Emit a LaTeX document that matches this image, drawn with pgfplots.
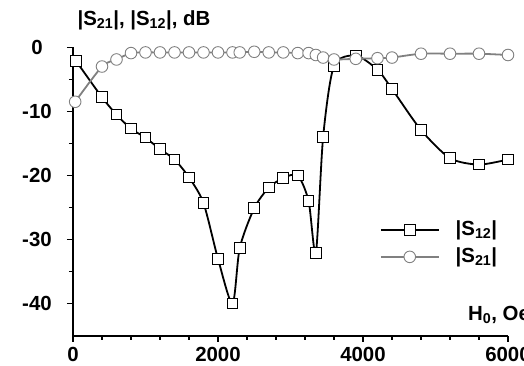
\documentclass[border=0pt]{standalone}
\usepackage{pgfplots}
\pgfplotsset{compat=1.18}
\usepackage{fontspec}
\setmainfont{Liberation Sans}
\definecolor{sgray}{gray}{0.5}
\begin{document}
\fontsize{20.5}{24}\selectfont\bfseries
\begin{tikzpicture}
\path[use as bounding box] (-73bp,-29.5bp) rectangle (451bp,335.7bp);
\begin{axis}[
  scale only axis, width=435bp, height=288.4bp,
  xmin=0, xmax=6000, ymin=-45, ymax=0,
  axis lines=left, axis line style={-, line width=1.8bp},
  xtick={0,2000,4000,6000}, xticklabels={0,2000,4000,6000},
  ytick={-40,-30,-20,-10,0}, yticklabels={-40,-30,-20,-10,0},
  minor x tick num=4, minor y tick num=1,
  tick align=outside, major tick length=6bp, minor tick length=4bp,
  tick style={black, line width=1.3bp},
  ticklabel style={font=\fontsize{20.5}{24}\selectfont\bfseries},
  xticklabel style={yshift=1bp},
  yticklabel style={anchor=center, xshift=-30bp},
  clip=true,
  legend style={at={(axis description cs:0.705,0.405)}, anchor=north west, draw=none, fill=none,
    font=\fontsize{20.5}{24}\selectfont\bfseries, row sep=5bp, column sep=14bp, inner sep=0pt},
  legend cell align=left,
  legend image code/.code={\draw[mark repeat=2,mark phase=2,#1] plot coordinates {(0bp,0bp) (29bp,0bp) (58bp,0bp)};},
]
\addplot[black, line width=1.8bp, smooth, tension=0.45, mark=square*, mark size=5.3bp,
  mark options={fill=white, draw=black, line width=1bp}] coordinates {
(40,-2.1) (400,-7.8) (600,-10.5) (800,-12.7) (1000,-14.1) (1200,-15.9) (1400,-17.5)
(1600,-20.3) (1800,-24.3) (2000,-33.0) (2200,-40.0) (2300,-31.3) (2500,-25.1)
(2700,-21.9) (2900,-20.4) (3100,-20.0) (3250,-24.0) (3350,-32.1) (3450,-14.0)
(3600,-2.9) (3900,-1.3) (4200,-3.5) (4400,-6.5) (4800,-12.9) (5200,-17.3)
(5600,-18.3) (6000,-17.5)};
\addlegendentry{|S\textsubscript{12}|}
\addplot[sgray, line width=1.8bp, smooth, tension=0.45, mark=*, mark size=5.8bp,
  mark options={fill=white, draw=sgray, line width=0.9bp}] coordinates {
(30,-8.5) (400,-3.0) (600,-1.9) (800,-0.9) (1000,-0.8) (1200,-0.8) (1400,-0.8)
(1600,-0.8) (1800,-0.8) (2000,-0.8) (2200,-0.8) (2300,-0.8) (2500,-0.7)
(2700,-0.8) (2900,-0.8) (3100,-0.9) (3250,-0.9) (3350,-1.2) (3450,-1.6)
(3600,-1.9) (3900,-1.8) (4200,-1.7) (4400,-1.6) (4800,-1.0) (5200,-1.0)
(5600,-1.0) (6000,-1.2)};
\addlegendentry{|S\textsubscript{21}|}
\end{axis}
\node[anchor=center] at (71bp,315.7bp) {|S\textsubscript{21}|, |S\textsubscript{12}|, dB};
\node[anchor=west, inner sep=0pt] at (395bp,20.7bp) {H\textsubscript{0}, Oe};
\end{tikzpicture}
\end{document}
